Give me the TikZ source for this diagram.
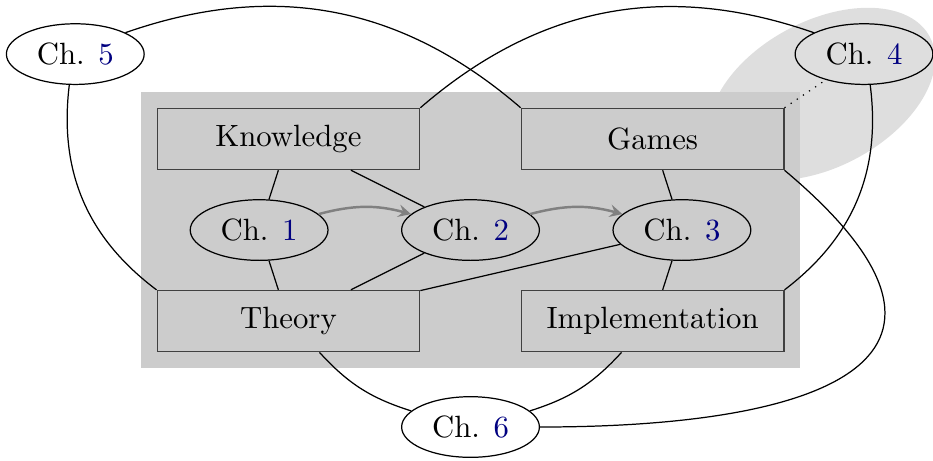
\documentclass[tikz,border=0pt]{standalone}
\usetikzlibrary{shapes.geometric,fit,backgrounds}
\colorlet{chapblue}{blue!50!black}
\newcommand{\chnum}[1]{\textcolor{chapblue}{#1}}

\begin{document}
\begin{tikzpicture}
    \tikzset{>=stealth}
    \tikzset{topic/.style={draw=black!75, minimum width=3cm, minimum height=7mm}}
    \tikzset{chapter/.style={draw, ellipse}}
    \useasboundingbox (-5.375,-2.627) rectangle (5.283,2.628);

    \node (know) at (-2.08,1.04) [topic] {Knowledge};
    \node (games) at (2.08,1.04) [topic] {Games};
    \node (theory) at (-2.08,-1.04) [topic] {Theory};
    \node (impl) at (2.08,-1.04) [topic] {Implementation};

    \node (c1) at (-2.415,0) [chapter] {Ch. \chnum{1}};
    \node (c2) at (0,0) [chapter] {Ch. \chnum{2}};
    \node (c3) at (2.415,0) [chapter] {Ch. \chnum{3}};
    \node (c5) at (-4.515,2.01) [chapter] {Ch. \chnum{5}};
    \node (c4) at (4.495,2.01) [chapter] {Ch. \chnum{4}};
    \node (c6) at (0,-2.25) [chapter] {Ch. \chnum{6}};

    \begin{scope}[on background layer]
    \fill [black!13, rotate around={28:(4.015,1.554)}] (4.015,1.554) ellipse (1.394 and 0.834);
    \node (area) [fit=(know)(games)(theory)(impl), inner sep=5pt, fill=gray!40] {};
    \end{scope}

    \draw (know) -- (c1);
    \draw (know) -- (c2);
    \draw (c1) -- (theory);
    \draw (c2) -- (theory);
    \draw (c3) -- (theory);
    \draw (games) -- (c3);
    \draw (c3) -- (impl);

    \foreach \a/\b in {c1/c2,c2/c3}{
	\draw [->, thick, gray] (\a) to [bend left=15] (\b);
    }

    \draw (c5) to [bend left=30] (games.north west);
    \draw (c5) to [bend right=30] (theory.north west);
    \draw (c4) to [bend right=30] (know.north east);
    \draw (c4) to [bend left=30] (impl.north east);
    \draw [dotted] (games.north east) -- (c4);

    \draw (theory) to [bend right=15] (c6);
    \draw (impl) to [bend left=15] (c6);
    \draw (games.south east) to [out=-40, in=0, looseness=2.1] (c6);
\end{tikzpicture}
\end{document}
